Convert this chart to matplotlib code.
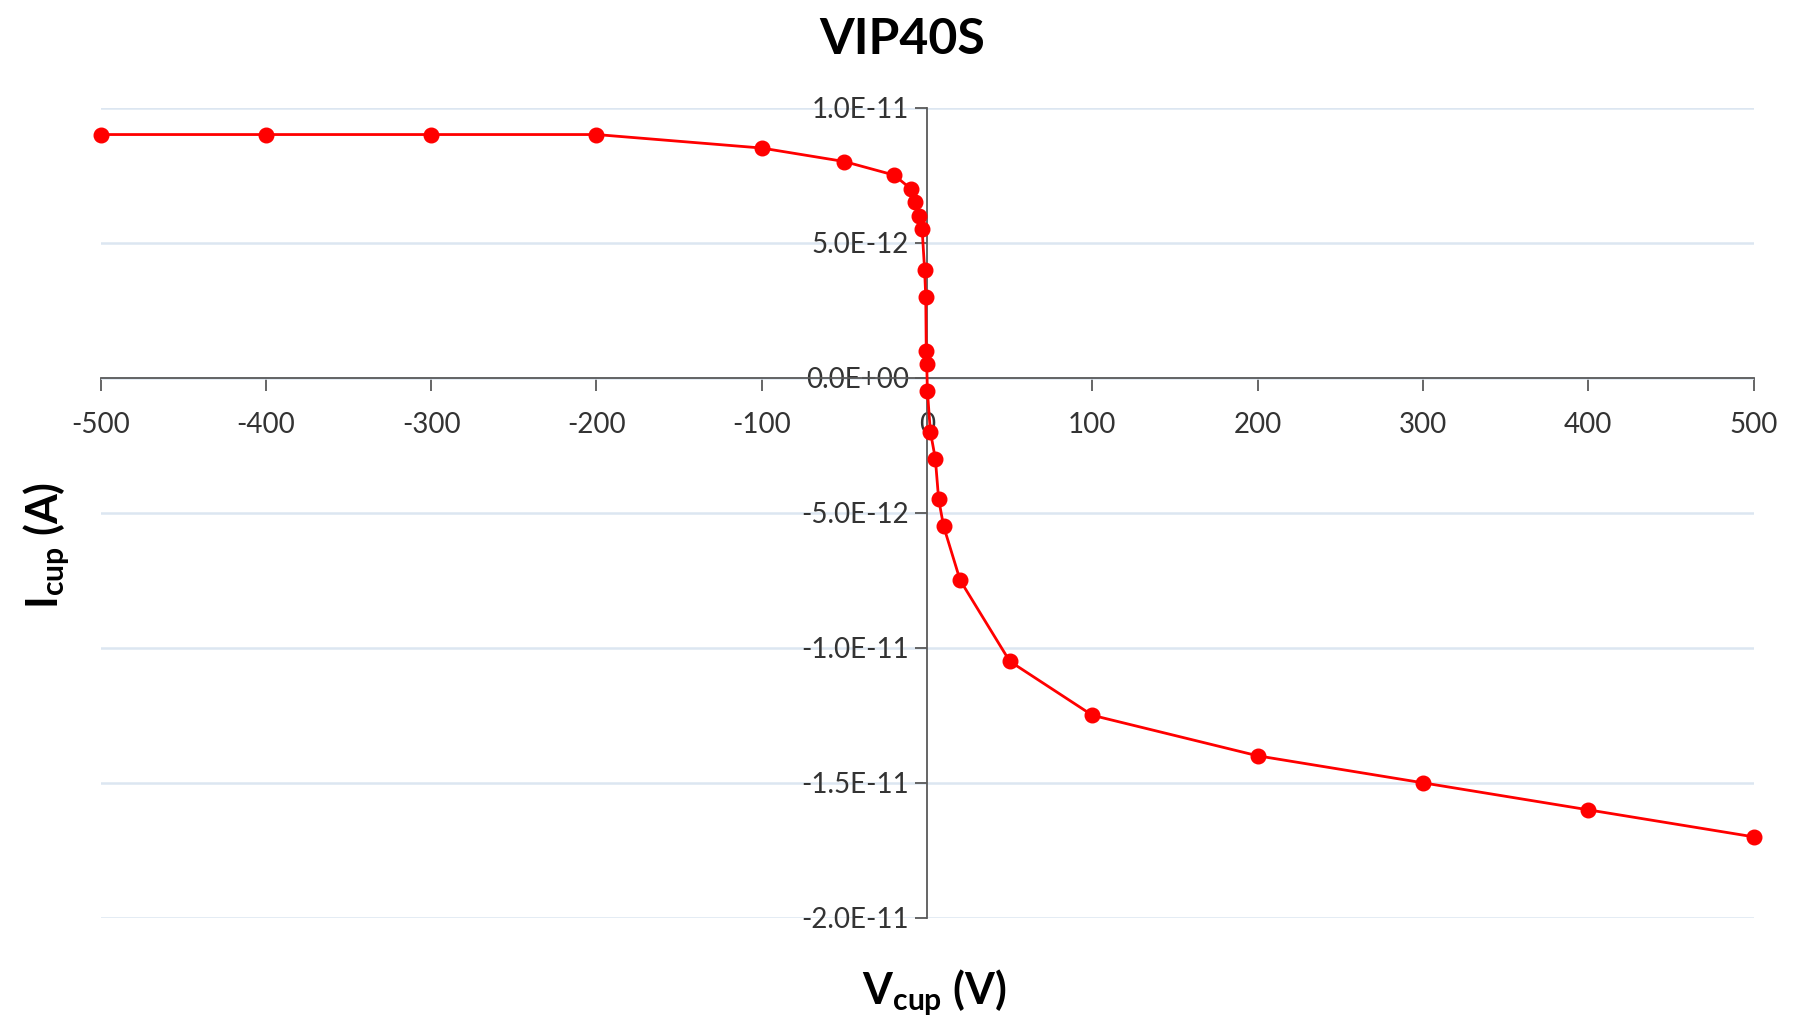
import numpy as np
import matplotlib.pyplot as plt
from matplotlib.ticker import FuncFormatter, MultipleLocator

plt.rcParams['font.family'] = ['Lato', 'DejaVu Sans']
plt.rcParams['mathtext.fontset'] = 'custom'
plt.rcParams['mathtext.rm'] = 'Lato'
plt.rcParams['mathtext.bf'] = 'Lato:bold'
plt.rcParams['axes.unicode_minus'] = False

# Vcup (V) and Icup (A)
v_cup = [-500, -400, -300, -200, -100, -50, -20, -10, -7, -5, -3, -1.5,
         -0.8, -0.5, -0.2, 0.2, 2, 5, 7, 10, 20, 50, 100, 200, 300, 400, 500]
i_cup = [9.0e-12, 9.0e-12, 9.0e-12, 9.0e-12, 8.5e-12, 8.0e-12, 7.5e-12, 7.0e-12,
         6.5e-12, 6.0e-12, 5.5e-12, 4.0e-12, 3.0e-12, 1.0e-12, 0.5e-12, -0.5e-12,
         -2.0e-12, -3.0e-12, -4.5e-12, -5.5e-12, -7.5e-12, -10.5e-12, -12.5e-12,
         -14.0e-12, -15.0e-12, -16.0e-12, -17.0e-12]

title = "VIP40S"

fig = plt.figure(figsize=(17.93, 10.29), dpi=100)
ax = fig.add_axes([0.0561, 0.108, 0.9219, 0.7875])

ax.plot(v_cup, i_cup, color="#ff0000", lw=2.0, marker="o", ms=10.5, zorder=5, clip_on=False)

ax.set_xlim(-500, 500)
ax.set_ylim(-2.0e-11, 1.0e-11)
ax.xaxis.set_major_locator(MultipleLocator(100))
ax.yaxis.set_major_locator(MultipleLocator(5e-12))
ax.yaxis.set_major_formatter(FuncFormatter(lambda v, p: f"{v:.1E}"))

ax.yaxis.grid(True, color="#dce6f1", lw=1.8)
ax.set_axisbelow(True)

for s in ["top", "right"]:
    ax.spines[s].set_visible(False)
ax.spines["left"].set_position(("data", 0))
ax.spines["bottom"].set_position(("data", 0))
for s in ["left", "bottom"]:
    ax.spines[s].set_color("#595959")
    ax.spines[s].set_linewidth(1.3)

ax.tick_params(axis="x", direction="out", length=9, width=1.3, color="#595959",
               labelsize=20, labelcolor="#333333", pad=16)
ax.tick_params(axis="y", direction="out", length=9, width=1.3, color="#595959",
               labelsize=20, labelcolor="#333333", pad=4)

fig.text(0.503, 0.962, title, ha="center", va="center", fontsize=36, fontweight="bold")
fig.text(0.521, 0.035, r"$\mathbf{V_{cup}}$ (V)", ha="center", va="center",
         fontsize=31, fontweight="bold")
fig.text(0.026, 0.47, r"$\mathbf{I_{cup}}$ (A)", ha="center", va="center",
         fontsize=31, fontweight="bold", rotation=90)

fig.savefig("out.png", dpi=100)
